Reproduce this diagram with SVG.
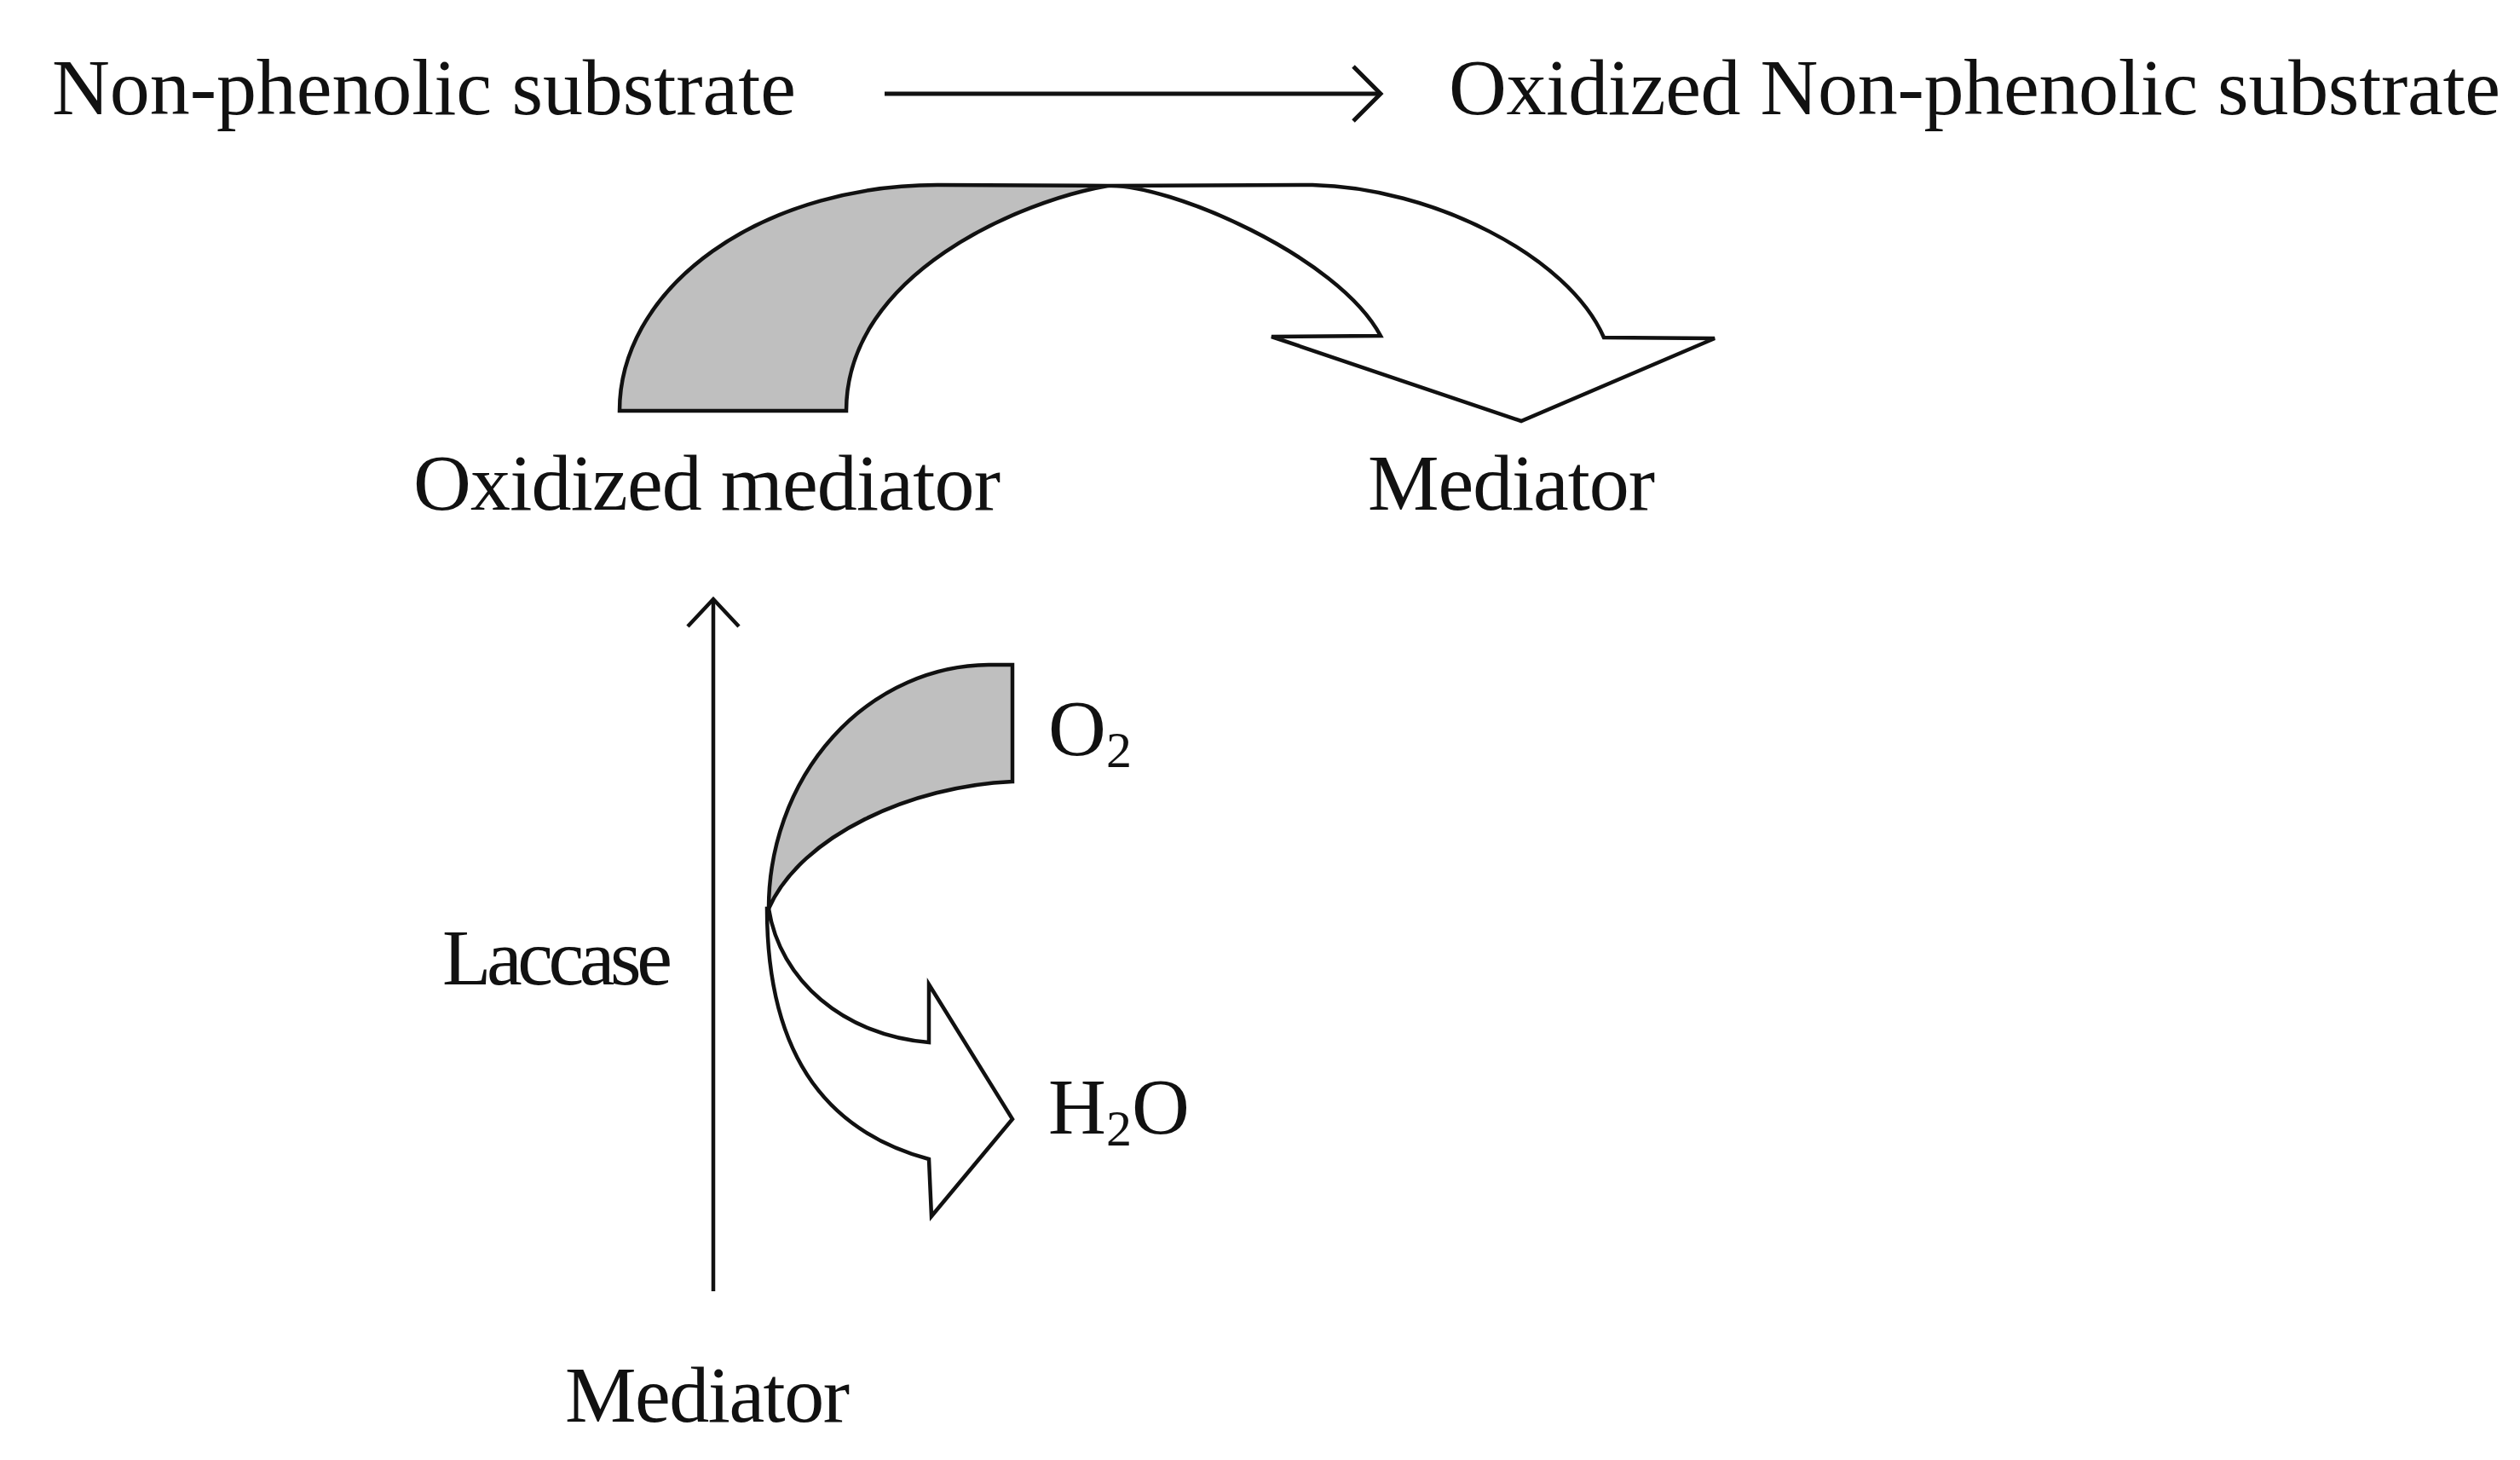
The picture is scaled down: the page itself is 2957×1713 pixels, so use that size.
<svg xmlns="http://www.w3.org/2000/svg" width="2957" height="1713" viewBox="0 0 2957 1713">
<style>
  text { font-family: "Liberation Serif", "Times New Roman", serif; font-size: 94px; fill: #111; }
  .sub { font-size: 60px; }
  .shape { stroke: #111; stroke-width: 4.5; stroke-linejoin: miter; }
  .gray { fill: #bfbfbf; }
  .white { fill: #ffffff; }
  .line { fill: none; stroke: #111; stroke-width: 4.5; stroke-linecap: butt; stroke-linejoin: miter; }
</style>
<rect x="0" y="0" width="2957" height="1713" fill="#ffffff"/>

<g id="node-nonphenolic"><text x="61" y="134" textLength="873">Non-phenolic substrate</text></g>
<g id="node-oxidized-nonphenolic"><text x="1700" y="134" textLength="1234">Oxidized Non-phenolic substrate</text></g>
<g id="node-oxidized-mediator"><text x="485" y="598" textLength="689">Oxidized mediator</text></g>
<g id="node-mediator-top"><text x="1605" y="598" textLength="337">Mediator</text></g>
<g id="node-laccase"><text x="519" y="1155" textLength="270">Laccase</text></g>
<g id="node-mediator-bottom"><text x="663" y="1668" textLength="334">Mediator</text></g>
<g id="node-o2"><text x="1230" y="886">O<tspan class="sub" dy="14">2</tspan></text></g>
<g id="node-h2o"><text x="1230" y="1330">H<tspan class="sub" dy="14">2</tspan><tspan dy="-14">O</tspan></text></g>

<g id="connectors">
  <!-- top straight arrow -->
  <g id="arrow-substrate">
    <line class="line" x1="1038" y1="110" x2="1618" y2="110" style="stroke-width:5"/>
    <polyline class="line" points="1588,78 1620,110 1588,142" style="stroke-width:5"/>
  </g>
  <!-- upper curved arrow: gray part -->
  <g id="curve-top">
    <path class="shape gray" d="M727,482 A373,265 0 0 1 1100,217 L1300,218 C1200,235 993,320 993,482 Z"/>
    <path class="shape white" d="M1300,218 L1540,217 C1680,220 1840,300 1882,396 L2012,397 L1785,494 L1492,395 L1620,394 C1570,300 1370,215 1300,218 Z"/>
  </g>
  <!-- vertical laccase arrow -->
  <g id="arrow-laccase">
    <line class="line" x1="837" y1="1515" x2="837" y2="703"/>
    <polyline class="line" points="807,735 837,703 867,735"/>
  </g>
  <!-- lower curved arrow -->
  <g id="curve-bottom">
    <path class="shape gray" d="M902,1066 A260,286 0 0 1 1160,780 L1188,780 L1188,917 C1070,922 940,980 902,1066 Z"/>
    <path class="shape white" d="M902,1066 C915,1150 990,1215 1090,1223 L1090,1155 L1188,1313 L1093,1427 L1090,1360 C980,1330 900,1250 900,1066 Z"/>
  </g>
</g>
</svg>
